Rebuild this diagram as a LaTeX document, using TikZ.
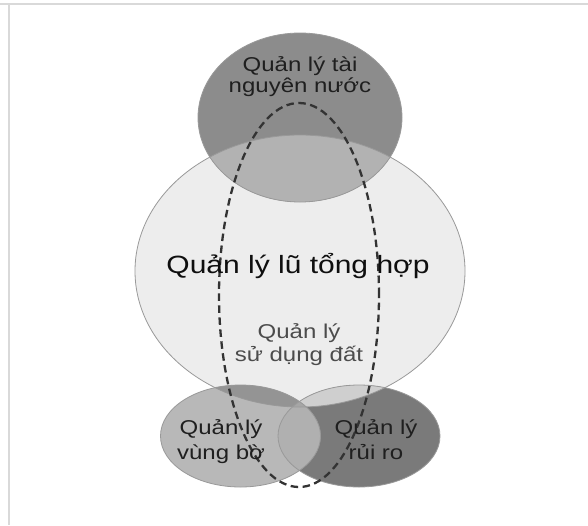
\documentclass[tikz,border=0pt]{standalone}
\usepackage{fontspec}
\setmainfont{Liberation Sans}[FakeStretch=1.2]
\begin{document}
\begin{tikzpicture}[x=1pt,y=-1pt,
  lbl/.style={anchor=base,inner sep=0pt,font=\fontsize{20}{24}\selectfont,text=black!88},
  bigl/.style={anchor=base,inner sep=0pt,font=\fontsize{25}{30}\selectfont,text=black!94},
  midl/.style={anchor=base,inner sep=0pt,font=\fontsize{20}{24}\selectfont,text=black!70},
  rim/.style={draw=black!40,line width=0.8pt},
  frame/.style={draw=black!15,line width=1.6pt}]
\useasboundingbox (0,0) rectangle (588,525);
\fill[white] (0,0) rectangle (588,525);
% light frame lines
\draw[frame] (0,4) -- (588,4);
\draw[frame] (9,4) -- (9,525);

% shapes of the diagram
\def\flood{(300,271) ellipse [x radius=165pt, y radius=136pt]}
\def\water{(300,117.5) ellipse [x radius=102pt, y radius=84.5pt]}
\def\coast{(240.5,436) ellipse [x radius=80pt, y radius=51pt]}
\def\risk{(359,436) ellipse [x radius=81pt, y radius=51pt]}
\def\landuse{(299,295) ellipse [x radius=80pt, y radius=192pt]}

\fill[black!7] \flood;
% water resources
\fill[black!45] \water;
\begin{scope}\clip \water; \fill[black!30] \flood; \end{scope}
% risk
\fill[black!52] \risk;
\begin{scope}\clip \risk; \fill[black!19] \flood; \end{scope}
% coastal zone
\fill[black!28] \coast;
\begin{scope}\clip \coast; \fill[black!42] \flood; \end{scope}
\begin{scope}\clip \coast; \fill[black!31] \risk; \end{scope}
\begin{scope}\clip \coast; \clip \risk; \fill[black!35] \flood; \end{scope}

% outlines
\draw[rim] \flood;
\draw[rim] \water;
\draw[rim] \risk;
\draw[rim] \coast;

% land use management boundary
\draw[black!80,line width=2.3pt,dash pattern=on 7.5pt off 4.5pt] \landuse;

% labels
\node[lbl] (wr1) at (300,71) {Quản lý tài};
\node[lbl] (wr2) at (300,92) {nguyên nước};
\node[bigl] (ifm) at (298,273) {Quản lý lũ tổng hợp};
\node[midl] (lu1) at (299,338) {Quản lý};
\node[midl] (lu2) at (299,361) {sử dụng đất};
\node[lbl] (cz1) at (221,434) {Quản lý};
\node[lbl] (cz2) at (221,459) {vùng bờ};
\node[lbl] (rk1) at (376,434) {Quản lý};
\node[lbl] (rk2) at (376,459) {rủi ro};
\end{tikzpicture}
\end{document}
